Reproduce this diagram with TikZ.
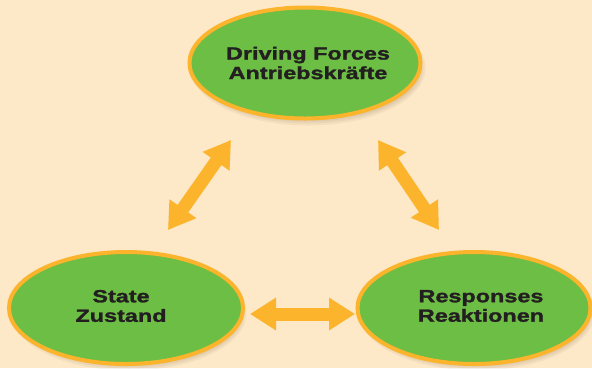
\documentclass[tikz,border=0pt]{standalone}
\usepackage{fontspec}
\newfontfamily\lblfont{Liberation Sans}[FakeStretch=1.33, BoldFeatures={FakeBold=1.5}]
\usetikzlibrary{arrows.meta}
\definecolor{bgc}{HTML}{FDE8C8}
\definecolor{grn}{HTML}{6DBE45}
\definecolor{org}{HTML}{FBB42B}
\definecolor{txt}{HTML}{231F20}
\tikzset{
  oval/.style={ellipse, draw=org, line width=4pt, fill=grn, inner sep=0pt},
  lbl/.style={align=center, text=txt, font=\lblfont\bfseries\fontsize{17.6}{19.5}\selectfont, inner sep=0pt},
  dbl/.style={draw=org, line width=13pt, {Triangle[length=26pt,width=31pt]}-{Triangle[length=26pt,width=31pt]}}
}
\usetikzlibrary{shapes.geometric}
\begin{document}
\begin{tikzpicture}[x=1pt,y=-1pt]
\fill[bgc] (0,0) rectangle (592,368);
\useasboundingbox (0,0) rectangle (592,368);
% soft shadows
\foreach \cx/\cy in {305/63,126/308,474/308}{
  \foreach \s in {0,2,4,6,8}{
    \fill[black!70!brown, opacity=0.05] (\cx+3,\cy+5) ellipse ({117.5-\s} and {57.5-\s});
  }
}
\node[oval, minimum width=231pt, minimum height=111pt] (drv) at (305,63) {};
\node[oval, minimum width=234pt, minimum height=112pt] (state) at (126,308) {};
\node[oval, minimum width=233pt, minimum height=112pt] (resp) at (474,308) {};
\node[lbl] (drvT) at (308,63) {Driving Forces\\Antriebskräfte};
\node[lbl] (stateT) at (121,306) {State\\Zustand};
\node[lbl] (respT) at (481,306) {Responses\\Reaktionen};
\coordinate (l1) at (168,230);
\coordinate (l2) at (231,140);
\coordinate (r1) at (378,140);
\coordinate (r2) at (439,230);
\coordinate (b1) at (250,314);
\coordinate (b2) at (355,314);
\draw[dbl] (l1) -- (l2);
\draw[dbl] (r1) -- (r2);
\draw[dbl] (b1) -- (b2);
\end{tikzpicture}
\end{document}
